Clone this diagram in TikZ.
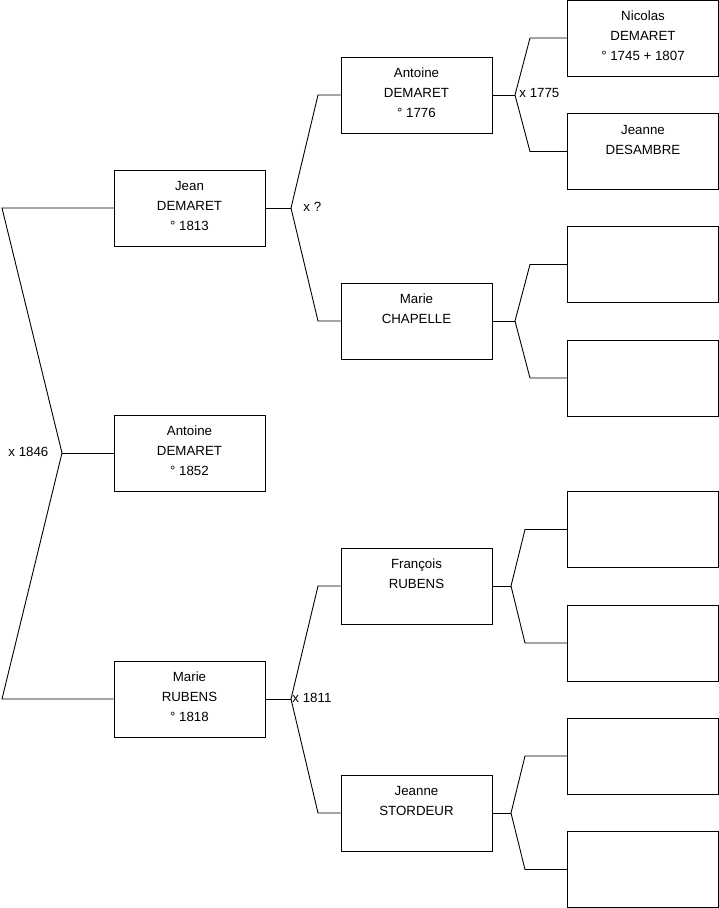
\documentclass[tikz,border=0pt]{standalone}
\usepackage{fontspec}
\setmainfont{Liberation Sans}
\usetikzlibrary{positioning}
\tikzset{every picture/.style={line width=0.9pt}}
\newcommand{\fiche}[1]{\parbox[c][76pt][t]{151pt}{\centering\rule{0pt}{20.5pt}#1}}

\begin{document}
\begin{tikzpicture}[x=1pt,y=-1pt,
    personne/.style={draw, inner sep=0pt, font=\fontsize{13.3}{20}\selectfont},
    mariage/.style={anchor=west, inner sep=0pt, font=\fontsize{13.3}{16}\selectfont}]
    \useasboundingbox (0,0) rectangle (719,908);

    % enfant et parents
    \node[personne] (jean) at (189.5,208) {\fiche{Jean\\DEMARET\\° 1813}};
    \node[personne] (antoine) at (189.5,453) {\fiche{Antoine\\DEMARET\\° 1852}};
    \node[personne] (marie) at (189.5,699) {\fiche{Marie\\RUBENS\\° 1818}};

    % grands-parents
    \node[personne] (antoineP) at (416.5,95) {\fiche{Antoine\\DEMARET\\° 1776}};
    \node[personne] (chapelle) at (416.5,321) {\fiche{Marie\\CHAPELLE}};
    \node[personne] (francois) at (416.5,586) {\fiche{François\\RUBENS}};
    \node[personne] (stordeur) at (416.5,813) {\fiche{Jeanne\\STORDEUR}};

    % arrière-grands-parents
    \node[personne] (nicolas) at (643,38) {\fiche{Nicolas\\DEMARET\\° 1745 + 1807}};
    \node[personne] (desambre) at (643,151.5) {\fiche{Jeanne\\DESAMBRE}};
    \node[personne] (vide1) at (643,264.5) {\fiche{}};
    \node[personne] (vide2) at (643,378) {\fiche{}};
    \node[personne] (vide3) at (643,529.5) {\fiche{}};
    \node[personne] (vide4) at (643,643) {\fiche{}};
    \node[personne] (vide5) at (643,756) {\fiche{}};
    \node[personne] (vide6) at (643,869.5) {\fiche{}};

    % mariage 1846
    \coordinate (m1846) at (62,453);
    \coordinate (m1846a) at (2,208);
    \coordinate (m1846b) at (2,699);
    \draw (jean.west) -- (m1846a) -- (m1846) -- (m1846b) -- (marie.west);
    \draw (m1846) -- (antoine.west);
    \node[mariage] (t1846) at (8,452) {x 1846};

    % mariage x ?
    \coordinate (mJ) at (291,208);
    \coordinate (mJa) at (318,95);
    \coordinate (mJb) at (318,321);
    \draw (jean.east) -- (mJ);
    \draw (antoineP.west) -- (mJa) -- (mJ) -- (mJb) -- (chapelle.west);
    \node[mariage] (tJ) at (303,207) {x ?};

    % mariage 1811
    \coordinate (mM) at (291,699);
    \coordinate (mMa) at (318,586);
    \coordinate (mMb) at (318,813);
    \draw (marie.east) -- (mM);
    \draw (francois.west) -- (mMa) -- (mM) -- (mMb) -- (stordeur.west);
    \node[mariage] (tM) at (292,698) {x 1811};

    % mariage 1775
    \coordinate (mA) at (515,95);
    \coordinate (mAa) at (530,38);
    \coordinate (mAb) at (530,151.5);
    \draw (antoineP.east) -- (mA);
    \draw (nicolas.west) -- (mAa) -- (mA) -- (mAb) -- (desambre.west);
    \node[mariage] (tA) at (519,93) {x 1775};

    % parents de Marie CHAPELLE
    \coordinate (mC) at (515,321);
    \coordinate (mCa) at (530,264.5);
    \coordinate (mCb) at (530,378);
    \draw (chapelle.east) -- (mC);
    \draw (vide1.west) -- (mCa) -- (mC) -- (mCb) -- (vide2.west);

    % parents de François RUBENS
    \coordinate (mF) at (511,586);
    \coordinate (mFa) at (525,529.5);
    \coordinate (mFb) at (525,643);
    \draw (francois.east) -- (mF);
    \draw (vide3.west) -- (mFa) -- (mF) -- (mFb) -- (vide4.west);

    % parents de Jeanne STORDEUR
    \coordinate (mS) at (511,813);
    \coordinate (mSa) at (525,756);
    \coordinate (mSb) at (525,869.5);
    \draw (stordeur.east) -- (mS);
    \draw (vide5.west) -- (mSa) -- (mS) -- (mSb) -- (vide6.west);
\end{tikzpicture}
\end{document}
